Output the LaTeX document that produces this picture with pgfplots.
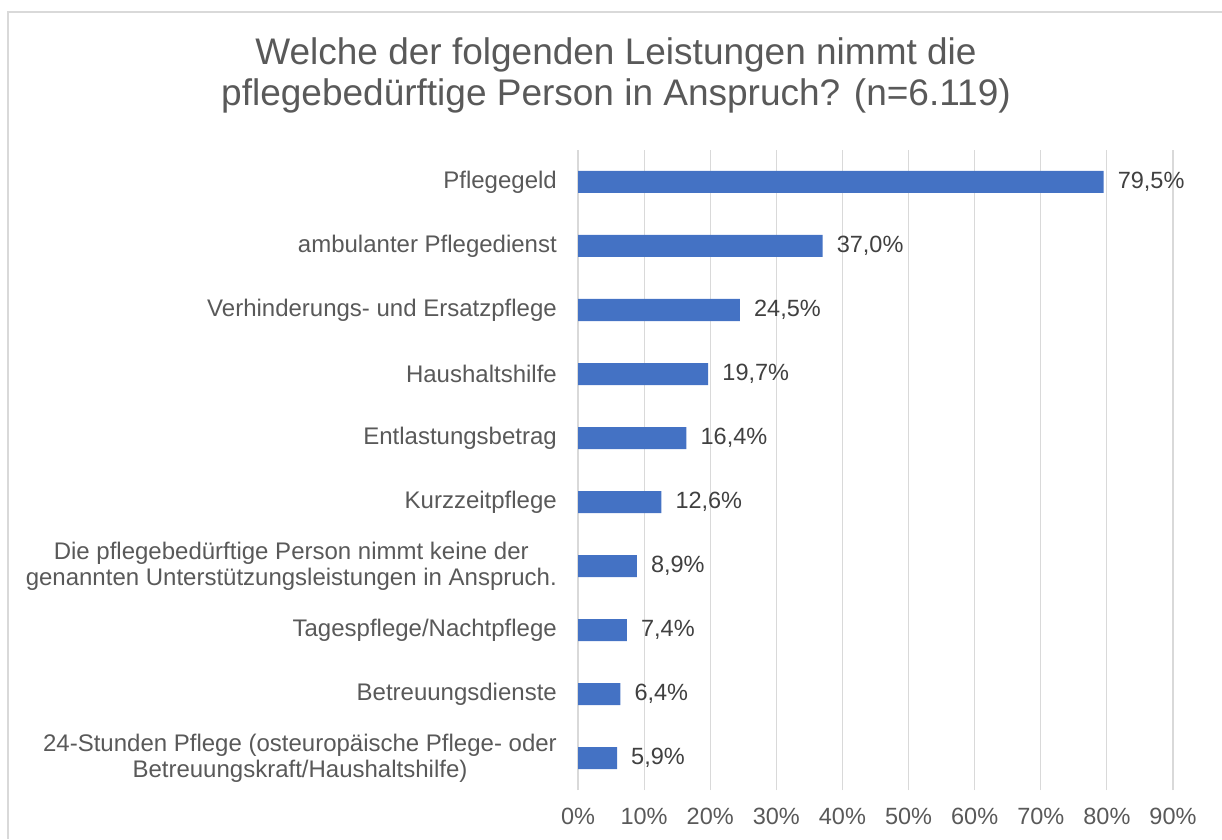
\documentclass[border=0pt]{standalone}
\usepackage{pgfplots}
\pgfplotsset{compat=1.18}
\usepackage{fontspec}
\setmainfont{Liberation Sans}
\definecolor{txt}{HTML}{595959}
\definecolor{valtxt}{HTML}{404040}
\definecolor{barblue}{HTML}{4472C4}
\definecolor{gridc}{HTML}{D9D9D9}
\begin{document}
\begin{tikzpicture}[x=1pt,y=1pt]
\useasboundingbox (0pt,0pt) rectangle (1222pt,839pt);
\draw[gridc, line width=1.5pt] (8pt,0pt) -- (8pt,827pt) -- (1240pt,827pt);
\node[anchor=base, text=txt, font=\fontsize{37}{42}\selectfont, inner sep=0pt] at (616pt,774.7pt) {Welche der folgenden Leistungen nimmt die};
\node[anchor=base, text=txt, font=\fontsize{37}{42}\selectfont, inner sep=0pt] at (616pt,733pt) {pflegebedürftige Person in Anspruch? (n=6.119)};
\begin{axis}[
  at={(578pt,49pt)}, anchor=south west,
  scale only axis, width=595pt, height=640pt,
  xbar, bar width=22pt,
  xmin=0, xmax=90, ymin=-0.5, ymax=9.5,
  xtick={0,10,...,90},
  ytick={0,...,9},
  yticklabels={
    {24-Stunden Pflege (osteuropäische Pflege- oder\\Betreuungskraft/Haushaltshilfe)},
    {Betreuungsdienste},
    {Tagespflege/Nachtpflege},
    {Die pflegebedürftige Person nimmt keine der\\genannten Unterstützungsleistungen in Anspruch.},
    {Kurzzeitpflege},
    {Entlastungsbetrag},
    {Haushaltshilfe},
    {Verhinderungs- und Ersatzpflege},
    {ambulanter Pflegedienst},
    {Pflegegeld}},
  xticklabel={\pgfmathprintnumber{\tick}\%},
  /pgf/number format/assume math mode=true,
  xmajorgrids, ymajorgrids=false,
  major grid style={gridc, line width=1.2pt},
  axis line style={draw=none},
  major tick length=0pt,
  xticklabel style={font=\fontsize{23.5}{26}\selectfont, text=txt, inner sep=0pt, anchor=north, yshift=-18pt},
  yticklabel style={font=\fontsize{24}{26}\selectfont, text=txt, inner sep=0pt, align=center, anchor=east, xshift=-21pt},
  point meta=x,
  nodes near coords={\pgfmathprintnumber[fixed,fixed zerofill,precision=1,use comma]{\pgfplotspointmeta}\%},
  nodes near coords style={font=\fontsize{23.5}{26}\selectfont, text=valtxt, inner sep=0pt, anchor=west, xshift=14pt},
  clip=false,
]
\addplot[fill=barblue, draw=none] coordinates {
  (5.9,0) (6.4,1) (7.4,2) (8.9,3) (12.6,4) (16.4,5) (19.7,6) (24.5,7) (37.0,8) (79.5,9)
};
\end{axis}
\end{tikzpicture}
\end{document}
